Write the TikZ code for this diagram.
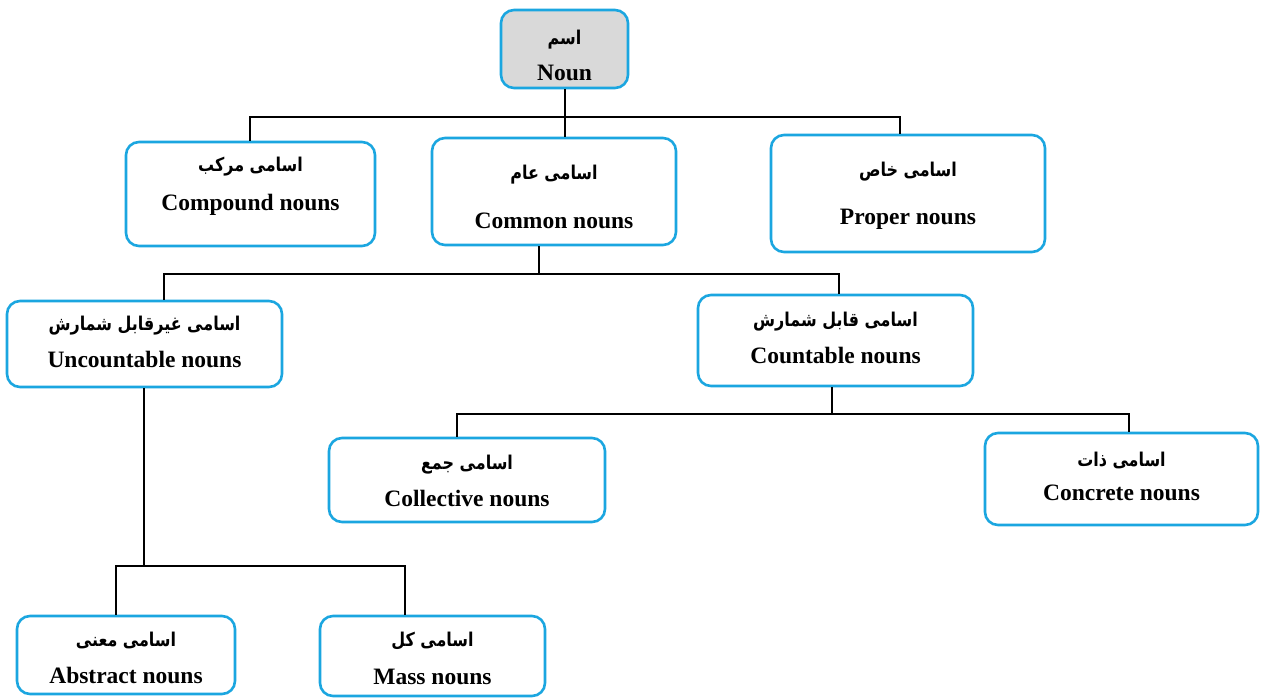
\documentclass[tikz,border=0pt]{standalone}
\usepackage{fontspec}
\setmainfont{Liberation Serif}
\newfontfamily\arabicfont[Script=Arabic, FakeStretch=0.84]{DejaVu Sans}
\TeXXeTstate=1
\definecolor{boxblue}{HTML}{1BA6E0}
\definecolor{boxgray}{HTML}{D9D9D9}
\begin{document}
\begin{tikzpicture}[x=1pt,y=-1pt,
  box/.style={draw=boxblue, line width=2.6pt, rounded corners=13pt, fill=white, inner sep=0pt},
  en/.style={font=\fontsize{23.5}{28}\selectfont\bfseries, anchor=base, inner sep=0pt},
  fa/.style={font=\arabicfont\fontsize{19}{22}\selectfont\bfseries, anchor=center, inner sep=0pt},
  conn/.style={draw=black, line width=2pt}]
\useasboundingbox[fill=white] (0,0) rectangle (1267,697);

% boxes
\node[box, fill=boxgray, minimum width=127pt, minimum height=78pt] (noun) at (564.5,49) {};
\node[box, minimum width=249pt, minimum height=104pt] (compound) at (250.5,194) {};
\node[box, minimum width=244pt, minimum height=107pt] (common) at (554,191.5) {};
\node[box, minimum width=274pt, minimum height=117pt] (proper) at (908,193.5) {};
\node[box, minimum width=275pt, minimum height=86pt] (uncount) at (144.5,344) {};
\node[box, minimum width=275pt, minimum height=91pt] (count) at (835.5,340.5) {};
\node[box, minimum width=276pt, minimum height=84pt] (collective) at (467,480) {};
\node[box, minimum width=273pt, minimum height=92pt] (concrete) at (1121.5,479) {};
\node[box, minimum width=218pt, minimum height=78pt] (abstract) at (126,655) {};
\node[box, minimum width=225pt, minimum height=80pt] (mass) at (432.5,656) {};

% junction coordinates
\coordinate (j1) at (565,117);
\coordinate (j2) at (539,274);
\coordinate (j3) at (832,414);
\coordinate (j4) at (144,566);

% connectors
\draw[conn] ([xshift=0.5pt]noun.south) -- ([xshift=0.5pt]noun.south |- common.north);
\draw[conn] ([xshift=-0.5pt]compound.north) |- (j1) -| ([xshift=-8pt]proper.north);
\draw[conn] ([xshift=-15pt]common.south) -- (j2);
\draw[conn] ([xshift=19pt]uncount.north) |- (j2) -| ([xshift=3pt]count.north);
\draw[conn] ([xshift=-3.5pt]count.south) -- (j3);
\draw[conn] ([xshift=-10pt]collective.north) |- (j3) -| ([xshift=7.5pt]concrete.north);
\draw[conn] ([xshift=-0.5pt]uncount.south) -- (j4);
\draw[conn] ([xshift=-10pt]abstract.north) |- (j4) -| ([xshift=-27.5pt]mass.north);

% texts
\node[fa] (t1a) at (564.5,40) {\beginR اسم\endR};
\node[en] (t1b) at (564.5,80) {Noun};
\node[fa] (t2a) at (250.5,167) {\beginR اسامی مرکب\endR};
\node[en] (t2b) at (250.5,210) {Compound nouns};
\node[fa] (t3a) at (554,175) {\beginR اسامی عام\endR};
\node[en] (t3b) at (554,228) {Common nouns};
\node[fa] (t4a) at (908,172) {\beginR اسامی خاص\endR};
\node[en] (t4b) at (908,224) {Proper nouns};
\node[fa] (t5a) at (144.5,326) {\beginR اسامی غیرقابل شمارش\endR};
\node[en] (t5b) at (144.5,367) {Uncountable nouns};
\node[fa] (t6a) at (835.5,322) {\beginR اسامی قابل شمارش\endR};
\node[en] (t6b) at (835.5,363) {Countable nouns};
\node[fa] (t7a) at (467,465) {\beginR اسامی جمع\endR};
\node[en] (t7b) at (467,506) {Collective nouns};
\node[fa] (t8a) at (1121.5,460) {\beginR اسامی ذات\endR};
\node[en] (t8b) at (1121.5,500) {Concrete nouns};
\node[fa] (t9a) at (126,640) {\beginR اسامی معنی\endR};
\node[en] (t9b) at (126,683) {Abstract nouns};
\node[fa] (t10a) at (432.5,641) {\beginR اسامی کل\endR};
\node[en] (t10b) at (432.5,684) {Mass nouns};
\end{tikzpicture}
\end{document}
